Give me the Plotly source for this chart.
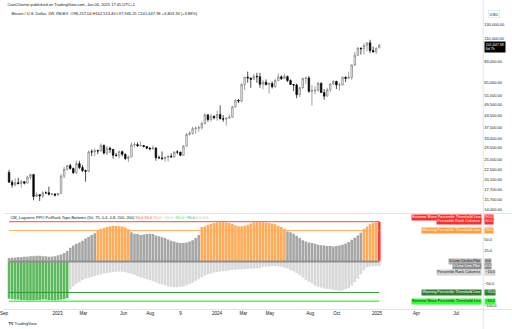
import plotly.graph_objects as go
import pandas as pd

W, H = 512, 329
def py(p):
    return 1 - p / H
def pxx(p):
    return p / W

# ---------------- data ----------------
weeks = pd.date_range("2022-09-12", periods=122, freq="7D")

open_ = [21830, 19420, 18800, 19310, 19070, 19550, 19200, 20630, 21300, 16330, 16700, 16460, 17100, 17090, 16780, 16840,
         16610, 16940, 20880, 22700, 23740, 22930, 21780, 24300, 23180, 22340, 22150, 28000, 27990, 28440, 28330, 30300,
         27590, 29230, 28850, 26920, 26750, 28080, 27230, 25840, 26340, 30470, 30590, 30170, 30230, 29880, 29270, 29030,
         29300, 26100, 26010, 25840, 26230, 26530, 26300, 27990, 27920, 26860, 29990, 34540, 35040, 37060, 37360, 37450,
         39460, 43780, 41370, 43010,
         42280, 43950, 41740, 41580, 42120, 42580, 48300, 52140, 51730, 63110, 68970, 68360, 67210, 69650, 69360, 63420,
         64940, 63120, 63890, 61480, 66270, 69270, 67730, 69650, 66200, 63210, 62770, 55850, 60800, 67950, 68250, 58150,
         58700, 58900, 64200, 57300, 54880, 59200, 63600, 65600, 62800, 62850, 69000, 68000, 68750, 80000, 89850, 97900,
         97300, 101150, 104450, 95200, 93700, 98257.04]
high = [22580, 19950, 20380, 20470, 19950, 19700, 21000, 21480, 21470, 17190, 16800, 17420, 17400, 18390, 17060, 16970,
        17040, 21460, 23370, 23820, 24240, 23160, 25250, 25130, 23890, 22600, 28480, 28870, 29180, 28800, 31000, 30510,
        30050, 29820, 29000, 27660, 28450, 28440, 27390, 26800, 31430, 31290, 31380, 31800, 30440, 30000, 29720, 30240,
        29670, 26800, 28140, 26400, 26890, 27480, 28050, 28600, 28000, 30350, 35190, 35980, 37960, 37960, 38430, 40200,
        44750, 43900, 44370, 43600,
        45900, 49050, 43580, 42200, 43870, 48580, 52820, 52980, 64000, 69200, 73780, 68400, 71770, 72720, 72800, 66870,
        67200, 64730, 65500, 67700, 71970, 70600, 71990, 70200, 67250, 63370, 63820, 61400, 68400, 69400, 70000, 62700,
        61800, 65000, 64480, 59800, 60650, 64130, 66500, 66000, 64500, 69400, 69500, 73600, 80250, 93450, 99600, 98700,
        104000, 105000, 108350, 99900, 98900, 102513.40]
low = [19330, 18150, 18470, 19000, 18190, 18900, 19160, 20060, 15600, 16270, 15480, 16000, 16870, 16550, 16560, 16330,
       16550, 16900, 20400, 22300, 22580, 21450, 21370, 22750, 21970, 19550, 21900, 26600, 26530, 27220, 28170, 27130,
       26940, 27670, 25810, 26550, 25880, 26520, 25350, 24750, 26250, 29530, 29700, 29960, 29620, 28930, 28580, 28770,
       25170, 25800, 25330, 24930, 24900, 26380, 26090, 27180, 26560, 26850, 29890, 34100, 34520, 34800, 35700, 36740,
       39000, 40200, 40550, 41420,
       40750, 41500, 40280, 38500, 41820, 42260, 47700, 50520, 50900, 59000, 64550, 60770, 66500, 64500, 60660, 59600,
       62400, 56550, 60190, 60750, 66100, 66670, 67600, 65060, 62700, 58470, 53500, 54300, 60000, 63500, 57100, 49000,
       56100, 57900, 57200, 52550, 54600, 57500, 62700, 59800, 58900, 62450, 65100, 67500, 66800, 78800, 89400, 90800,
       90500, 94300, 92200, 92600, 91500, 97946.25]
close = [19420, 18800, 19310, 19070, 19550, 19200, 20630, 21300, 16330, 16700, 16460, 17100, 17090, 16780, 16840, 16610,
         16940, 20880, 22700, 23740, 22930, 21780, 24300, 23180, 22340, 22150, 28000, 27990, 28440, 28330, 30300, 27590,
         29230, 28850, 26920, 26750, 28080, 27230, 25840, 26340, 30470, 30590, 30170, 30230, 29880, 29270, 29030, 29300,
         26100, 26010, 25840, 26230, 26530, 26300, 27990, 27920, 26860, 29990, 34540, 35040, 37060, 37360, 37450, 39460,
         43780, 41370, 43010, 42280,
         43950, 41740, 41580, 42120, 42580, 48300, 52140, 51730, 63110, 68970, 68360, 67210, 69650, 69360, 63420, 64940,
         63120, 63890, 61480, 66270, 69270, 67730, 69650, 66200, 63210, 62770, 55850, 60800, 67950, 68250, 58150, 58700,
         58900, 64200, 57300, 54880, 59200, 63600, 65600, 62800, 62850, 69000, 68000, 68750, 80000, 89850, 97900, 97300,
         101150, 104450, 95200, 93700, 97845, 101647.98]

# Percentile rank columns (tops: positive, bottoms: negative)
tops = [8, 9, 9, 10, 10, 11, 11, 12, 12, 13, 13, 12, 12, 11, 11, 12, 14, 16, 19, 24,
        31, 36, 40, 43, 47, 52, 56, 60, 64,
        71, 74, 76, 78, 80, 81, 81, 80, 79, 77, 73,
        66, 63, 62, 60, 61, 62, 63, 62, 59, 57, 55, 53, 50, 47, 45, 43, 42, 42, 43, 45, 48, 53, 60,
        78, 80, 83, 85, 87, 88, 89, 89, 88, 87, 85, 82, 80, 80, 81, 83, 86, 88, 89, 89, 89, 88, 87, 86, 84, 81, 78, 74,
        68, 66, 63, 58, 53, 48, 45, 43, 42, 40, 38, 37, 36, 35, 35, 34, 35, 36, 38, 41, 44, 49, 54, 59, 65,
        74, 79, 84, 87, 89, 90]
bottoms = [-84, -85, -86, -86, -87, -87, -88, -88, -88, -87, -87, -86, -86, -87, -88, -88, -87, -86, -85, -83,
           -63, -56, -50, -46, -42, -39, -37, -35, -33, -31,
           -29, -27, -26, -25, -24, -23, -23, -23, -24, -26,
           -28, -30, -33, -36, -38, -40, -42, -44, -47, -50,
           -52, -54, -56, -57, -58, -58, -57, -56, -54, -51,
           -48, -44, -40, -36, -32, -29, -27, -25, -24, -23,
           -22, -21, -20, -19, -19, -18, -18, -17, -17, -16,
           -16, -15, -15,
           -12, -11, -11, -10, -10, -11, -12, -14, -16, -19,
           -22, -26, -31, -36, -41, -46, -50, -54, -57, -59,
           -61, -62, -63, -64, -65, -66, -65, -63, -60, -54,
           -47, -39, -29, -20, -13, -11, -10, -10, -10]

levels = [90, 70, 0, -70, -90]
level_colors = ["#ff6b6b", "#ffb061", "#8f8f8f", "#2e9b35", "#4dff4d"]
level_widths = [1.2, 1.0, 1.8, 1.0, 1.4]

price_ticks = [130000, 110000, 83000, 65000, 55500, 49500, 43500, 37500, 33000, 29500, 25500, 22500,
               20100, 17700, 15700, 14000]
price_tick_text = ["130,000.00", "110,000.00", "83,000.00", "65,000.00", "55,500.00", "49,500.00", "43,500.00",
                   "37,500.00", "33,000.00", "29,500.00", "25,500.00", "22,500.00", "20,100.00", "17,700.00",
                   "15,700.00", "14,000.00"]
ind_ticks = [50, 25, -50, -100]
ind_tick_text = ["50.0", "25.0", "−50.0", "−100.0"]
date_ticks = ["2022-08-31 14:00", "2023-01-01", "2023-03-01", "2023-06-01", "2023-08-01", "2023-10-09", "2024-01-01",
              "2024-03-01", "2024-05-01", "2024-08-01", "2024-10-01", "2025-01-01", "2025-04-01", "2025-07-01"]
date_tick_text = ["Sep", "2023", "Mar", "Jun", "Aug", "9", "2024", "Mar", "May", "Aug", "Oct", "2025", "Apr", "Jul"]

# ---------------- colours ----------------
def top_color(v):
    if v >= 90:
        return "#ff3b3b"
    if v >= 70:
        return "#ffab57"
    return "#a6a6a6"

def bot_color(v):
    if v <= -90:
        return "#4dff4d"
    if v <= -70:
        return "#5cb85c"
    return "#d9d9d9"

FONT = "Liberation Sans"
TXT = "#131722"

fig = go.Figure()

fig.add_trace(go.Candlestick(
    x=weeks, open=open_, high=high, low=low, close=close,
    xaxis="x", yaxis="y",
    increasing=dict(line=dict(color="#7a7a7a", width=0.7), fillcolor="#ffffff"),
    decreasing=dict(line=dict(color="#000000", width=0.7), fillcolor="#000000"),
    whiskerwidth=0, showlegend=False, hoverinfo="skip"))

fig.add_trace(go.Bar(x=weeks, y=tops, xaxis="x", yaxis="y2",
                     marker=dict(color=[top_color(v) for v in tops], line=dict(width=0)),
                     showlegend=False, hoverinfo="skip"))
fig.add_trace(go.Bar(x=weeks, y=bottoms, xaxis="x", yaxis="y2",
                     marker=dict(color=[bot_color(v) for v in bottoms], line=dict(width=0)),
                     showlegend=False, hoverinfo="skip"))

for lv, lc, lw in zip(levels, level_colors, level_widths):
    fig.add_trace(go.Scatter(x=[weeks[0], weeks[-1]], y=[lv, lv], xaxis="x", yaxis="y2", mode="lines",
                             line=dict(color=lc, width=lw), showlegend=False, hoverinfo="skip"))

x_right = 483 / W
fig.update_layout(
    width=W, height=H, margin=dict(l=0, r=0, t=0, b=0),
    paper_bgcolor="white", plot_bgcolor="white",
    font=dict(family=FONT, size=4, color=TXT),
    barmode="overlay", bargap=0.14,
    xaxis=dict(type="date", domain=[0, x_right], range=["2022-08-31 10:00", "2025-08-31 22:00"],
               anchor="y2", showgrid=False, zeroline=False, showline=False, ticks="",
               tickvals=date_ticks, ticktext=date_tick_text, tickfont=dict(size=4.5, color=TXT),
               ticklabeloverflow="allow",
               rangeslider=dict(visible=False), fixedrange=True),
    yaxis=dict(type="log", domain=[py(213), py(2)], range=[4.1267, 5.2329], side="right", anchor="x",
               showgrid=False, zeroline=False, showline=False, ticks="",
               tickvals=price_ticks, ticktext=price_tick_text, tickfont=dict(size=4, color=TXT)),
    yaxis2=dict(domain=[py(309), py(215)], range=[-107.4, 105.2], side="right", anchor="x",
                showgrid=False, zeroline=False, showline=False, ticks="",
                tickvals=ind_ticks, ticktext=ind_tick_text, tickfont=dict(size=4, color=TXT)),
)

# pane borders
line_c = "#e0e3eb"
shapes = [
    dict(type="line", xref="paper", yref="paper", x0=x_right, x1=x_right, y0=0, y1=1, line=dict(color=line_c, width=1)),
    dict(type="line", xref="paper", yref="paper", x0=0, x1=1, y0=py(213.5), y1=py(213.5), line=dict(color=line_c, width=1)),
    dict(type="line", xref="paper", yref="paper", x0=0, x1=1, y0=py(309.5), y1=py(309.5), line=dict(color=line_c, width=1)),
]
fig.update_layout(shapes=shapes)

ann = []
def add_text(text, x, y, anchor="left", size=4, color=TXT, bg=None, pad=0.4):
    d = dict(text=text, x=pxx(x), y=py(y), xref="paper", yref="paper", xanchor=anchor, yanchor="middle",
             showarrow=False, font=dict(size=size, color=color, family=FONT), borderpad=pad)
    if bg:
        d["bgcolor"] = bg
    ann.append(d)

add_text("CoinChartist published on TradingView.com, Jan 06, 2025 17:45 UTC+1", 2, 5, size=4)
add_text("Bitcoin / U.S. Dollar, 1W, INDEX  O98,257.04 H102,513.40 L97,946.25 C101,647.98 +3,803.33 (+3.88%)",
         6, 14, size=4)
ann.append(dict(text="USD", x=pxx(488), y=py(13.5), xref="paper", yref="paper", xanchor="left", yanchor="middle",
                showarrow=False, font=dict(size=4, color=TXT, family=FONT), bordercolor="#e0e3eb", borderwidth=0.6,
                borderpad=1, bgcolor="white"))
ann.append(dict(text="101,647.98<br>6d 7h", x=pxx(483.5), y=py(47.3), xref="paper", yref="paper", xanchor="left",
                yanchor="middle", showarrow=False, align="left", font=dict(size=3.6, color="white", family=FONT),
                bgcolor="#000000", borderpad=0.8))

title = ("CM_Laguerre PPO PctRank Tops-Bottoms (50, 75, 0.4, 0.8, 200, 200) "
         "<span style='color:#ff3b3b'>90.0</span> <span style='color:#ff3b3b'>90.0</span> "
         "<span style='color:#ffa040'>70.0</span> <span style='color:#bdbdbd'>−10.0</span> "
         "<span style='color:#33dd33'>−90.0</span> <span style='color:#2e9b35'>−70.0</span> "
         "<span style='color:#bdbdbd'>0.0</span> <span style='color:#bdbdbd'>0.0</span>")
add_text(title, 5, 217.5, size=4)

labels = [
    ("Extreme Move Percentile Threshold Line", "90.0", 217.3, "#ff2e2e", "white"),
    ("Percentile Rank Columns", "90.0", 221.9, "#ff2e2e", "white"),
    ("Warning Percentile Threshold Line", "70.0", 230.4, "#ff9e3d", "white"),
    ("0 Line Circles Plot", "0.0", 261.7, "#b3b3b3", TXT),
    ("0 Line Line Plot", "0.0", 266.7, "#8f8f8f", "white"),
    ("Percentile Rank Columns", "−10.0", 272.0, "#d4d4d4", TXT),
    ("Warning Percentile Threshold Line", "−70.0", 292.7, "#2e7d32", "white"),
    ("Extreme Move Percentile Threshold Line", "−90.0", 301.3, "#33ff33", TXT),
]
for name, val, yy, bg, fc in labels:
    add_text(name, 481.8, yy, anchor="right", size=3.8, color=fc, bg=bg, pad=0.3)
    add_text(val, 483.5, yy, anchor="left", size=3.8, color=fc, bg=bg, pad=0.3)

add_text("<b>TV</b> TradingView", 3, 324, size=4)

fig.update_layout(annotations=ann)
fig.write_html("out.html")
